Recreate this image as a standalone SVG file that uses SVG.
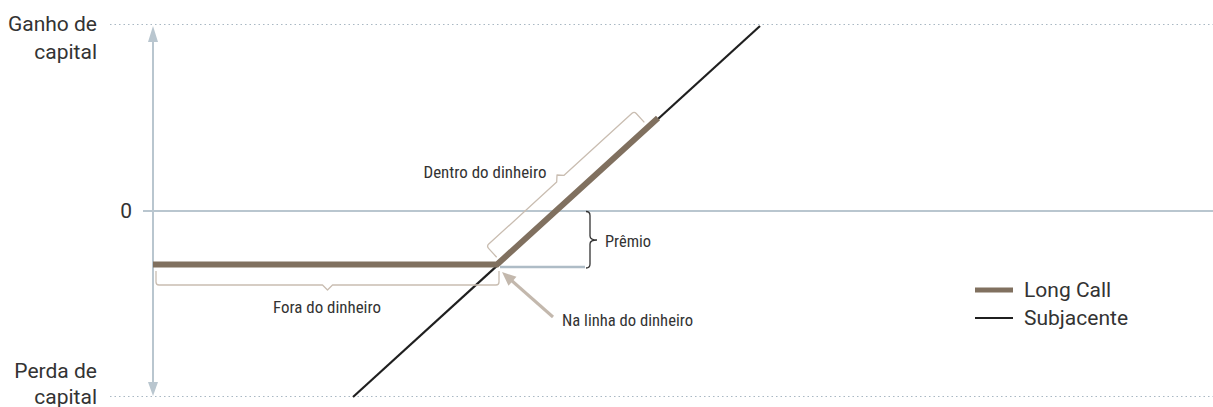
<svg xmlns="http://www.w3.org/2000/svg" width="1213" height="407" viewBox="0 0 1213 407">
<style>
.lbl{font-family:Roboto,"Liberation Sans",sans-serif;font-size:21px;fill:#333}
.cnd{font-family:"Liberation Sans Narrow","Roboto Condensed","Liberation Sans",sans-serif;font-size:17px;fill:#333}
.dot{stroke:#a9b8c3;stroke-width:1.2;stroke-dasharray:1.5 3;fill:none}
.axis{stroke:#b9c6cf;stroke-width:2;fill:none}
.axh{fill:#b9c6cf}
.brk{stroke:#c9bdb1;stroke-width:1.3;fill:none;stroke-linejoin:round}
</style>
<rect width="1213" height="407" fill="#fff"/>
<g id="grid">
<line class="dot" x1="110" y1="24.5" x2="1213" y2="24.5"/>
<line class="dot" x1="110" y1="396.5" x2="1213" y2="396.5"/>
<line class="axis" x1="143" y1="211" x2="1213" y2="211" stroke-width="1.5"/>
<line class="axis" x1="153" y1="40" x2="153" y2="384"/>
<polygon class="axh" points="153,26 158,42 148,42"/>
<polygon class="axh" points="153,396 158,382 148,382"/>
</g>
<g id="axis-labels">
<text class="lbl" x="97" y="31" text-anchor="end">Ganho de</text>
<text class="lbl" x="97" y="59" text-anchor="end">capital</text>
<text class="lbl" x="132" y="218" text-anchor="end">0</text>
<text class="lbl" x="97" y="378" text-anchor="end">Perda de</text>
<text class="lbl" x="97" y="404" text-anchor="end">capital</text>
</g>
<g id="connectors">
<path id="subjacente" d="M353,397 L760,26" stroke="#1f1f1f" stroke-width="2.2" fill="none"/>
<line x1="500" y1="267" x2="585" y2="267" stroke="#aebcc6" stroke-width="2.5"/>
<path id="long-call" d="M153,264.5 H497 L658,118" stroke="#80705f" stroke-width="6" fill="none" stroke-linejoin="miter"/>
<line x1="553" y1="317" x2="511" y2="280" stroke="#c3b8ad" stroke-width="3"/>
<polygon points="502,272 516.5,276.8 508.5,285.8" fill="#c3b8ad"/>
</g>
<g id="fora">
<path class="brk" d="M156,271 V282 Q156,285 159,285 H322.5 L327.5,290 L332.5,285 H496 Q499,285 499,282 V271"/>
<text class="cnd" x="327" y="313" text-anchor="middle" textLength="108" lengthAdjust="spacingAndGlyphs">Fora do dinheiro</text>
</g>
<g id="dentro">
<path class="brk" transform="translate(497,265) rotate(-42.4)" d="M5,-6 V-18 Q5,-21 8,-21 H100 L105,-26 L110,-21 H202 Q205,-21 205,-18 V-6"/>
<text class="cnd" x="485" y="178" text-anchor="middle" textLength="123" lengthAdjust="spacingAndGlyphs">Dentro do dinheiro</text>
</g>
<g id="premio">
<path d="M586,211.5 Q590,211.5 590,215.5 V236 Q590,240 597,240 Q590,240 590,244 V264 Q590,268 586,268" stroke="#333" stroke-width="1.3" fill="none"/>
<text class="cnd" x="605" y="247" textLength="46" lengthAdjust="spacingAndGlyphs">Prêmio</text>
</g>
<g id="na-linha">
<text class="cnd" x="562" y="326" textLength="131" lengthAdjust="spacingAndGlyphs">Na linha do dinheiro</text>
</g>
<g id="legend">
<line x1="975" y1="290" x2="1013" y2="290" stroke="#80705f" stroke-width="5"/>
<text class="lbl" x="1024" y="297">Long Call</text>
<line x1="975" y1="318" x2="1013" y2="318" stroke="#1f1f1f" stroke-width="2"/>
<text class="lbl" x="1024" y="325">Subjacente</text>
</g>
</svg>
